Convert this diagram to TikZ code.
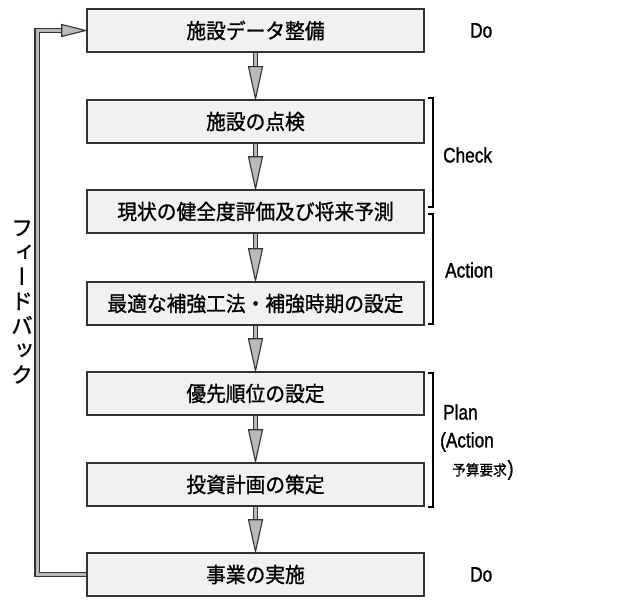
\documentclass[tikz,border=0pt]{standalone}
\usepackage{fontspec}
\setmainfont[FakeStretch=0.82,FakeBold=1.2]{Liberation Sans}
\newfontfamily\jp[FakeBold=1.0,FakeStretch=0.94]{Noto Sans CJK JP}
\newfontfamily\jpv[RawFeature={+vert},FakeBold=1.0]{Noto Sans CJK JP}
\usetikzlibrary{calc}
\tikzset{
  stepbox/.style={draw=black!80, line width=2.6pt, fill=gray!11, minimum width=337pt, minimum height=43pt, inner sep=0pt, font=\jp\fontsize{21}{21}\selectfont},
  shaft/.style={draw=black!80, line width=1.2pt, double=gray!55, double distance=3pt},
  head/.style={draw=black!80, line width=1.1pt, fill=gray!55, line join=miter},
  brk/.style={draw=black, line width=1.3pt},
  lbl/.style={anchor=west, inner sep=0pt, font=\fontsize{21}{21}\selectfont},
}
\newcommand{\flowarrow}[2]{%
  \draw[shaft] (#1.south) -- ($(#2.north)+(0,-30)$);
  \draw[head] ($(#2.north)+(-7,-32)$) -- (#2.north) -- ($(#2.north)+(7,-32)$) -- cycle;
}
\begin{document}
\begin{tikzpicture}[x=1pt,y=-1pt]
\path[fill=white] (0,0) rectangle (617,599);
\useasboundingbox (0,0) rectangle (617,599);

\node[stepbox] (b1) at (255.5,30.5) {施設データ整備};
\node[stepbox] (b2) at (255.5,121.5) {施設の点検};
\node[stepbox] (b3) at (255.5,211.5) {現状の健全度評価及び将来予測};
\node[stepbox] (b4) at (255.5,303.5) {最適な補強工法・補強時期の設定};
\node[stepbox] (b5) at (255.5,393.5) {優先順位の設定};
\node[stepbox] (b6) at (255.5,484.5) {投資計画の策定};
\node[stepbox] (b7) at (255.5,574.5) {事業の実施};

\flowarrow{b1}{b2}
\flowarrow{b2}{b3}
\flowarrow{b3}{b4}
\flowarrow{b4}{b5}
\flowarrow{b5}{b6}
\flowarrow{b6}{b7}

% feedback loop
\coordinate (fbB) at (37,574.5);
\coordinate (fbT) at (37,30.5);
\coordinate (fbH) at ($(b1.west)+(-22,0)$);
\draw[shaft, line join=miter] (b7.west) -- (fbB) -- (fbT) -- (fbH);
\draw[head] ($(b1.west)+(-24,-6)$) -- (b1.west) -- ($(b1.west)+(-24,6)$) -- cycle;

\node[align=center, inner sep=0pt, font=\jpv\fontsize{22}{24.5}\selectfont] (fb) at (22,302) {フ\\ィ\\ー\\ド\\バ\\ッ\\ク};

% brackets
\draw[brk] (428,98) -- (433,98) -- (433,207) -- (428,207);
\draw[brk] (428,214) -- (433,214) -- (433,324) -- (428,324);
\draw[brk] (428,373) -- (433,373) -- (433,507) -- (428,507);

% labels
\node[lbl] (do1) at (470,30.5) {Do};
\node[lbl] (chk) at (443,155) {Check};
\node[lbl] (act) at (445,270) {Action};
\node[lbl] (pln) at (443,412) {Plan};
\node[lbl] (pla) at (440,442) {(Action};
\node[lbl] (plb) at (452,470) {{\jp\fontsize{14.5}{14.5}\selectfont 予算要求}\kern1pt)};
\node[lbl] (do2) at (470,574.5) {Do};
\end{tikzpicture}
\end{document}
